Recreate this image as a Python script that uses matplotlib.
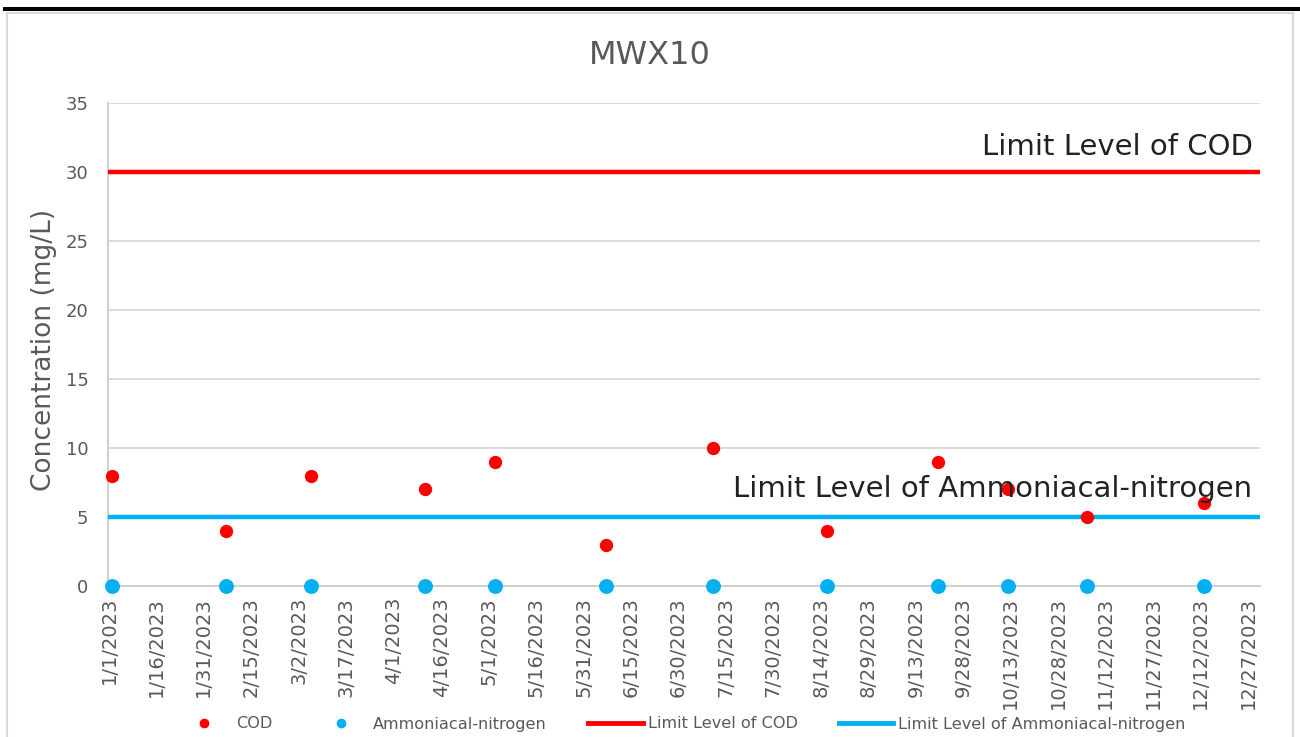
import pandas as pd
import matplotlib
matplotlib.use('Agg')
import matplotlib.pyplot as plt
from matplotlib.patches import Rectangle
from matplotlib.lines import Line2D

# data
sample_dates = ['2023-01-02', '2023-02-07', '2023-03-06', '2023-04-11', '2023-05-03',
                '2023-06-07', '2023-07-11', '2023-08-16', '2023-09-20', '2023-10-12',
                '2023-11-06', '2023-12-13']
cod = [8, 4, 8, 7, 9, 3, 10, 4, 9, 7, 5, 6]
ammonia = [0, 0, 0, 0, 0, 0, 0, 0, 0, 0, 0, 0]
cod_limit = 30
ammonia_limit = 5
tick_start = '2023-01-01'
tick_step_days = 15
n_ticks = 25

RED = '#FF0000'
BLUE = '#00B0F0'
GREY_TXT = '#595959'

plt.rcParams['font.family'] = ['DejaVu Sans']

fig = plt.figure(figsize=(13, 7.37), dpi=100, facecolor='white')
ax = fig.add_axes([108 / 1300, 1 - 586 / 737, (1260 - 108) / 1300, (586 - 103) / 737])

dates = pd.to_datetime(sample_dates)
t0 = pd.Timestamp(tick_start)
ticks = [t0 + pd.Timedelta(days=tick_step_days * i) for i in range(n_ticks)]

x_left = t0 - pd.Timedelta(hours=7)
x_right = t0 + pd.Timedelta(days=363.8)

ax.set_xlim(x_left, x_right)
ax.set_ylim(0, 35)

# gridlines
ax.set_yticks(range(0, 36, 5))
ax.yaxis.grid(True, color='#d9d9d9', linewidth=1.3)
ax.set_axisbelow(True)

ax.scatter(dates, ammonia, s=115, color=BLUE, zorder=3, clip_on=False, linewidths=0)
ax.scatter(dates, cod, s=92, color=RED, zorder=4, clip_on=False, linewidths=0)
ax.plot([x_left, x_right], [cod_limit, cod_limit], color=RED, linewidth=3.2, zorder=3,
        solid_capstyle='round')
ax.plot([x_left, x_right], [ammonia_limit, ammonia_limit], color=BLUE, linewidth=3.2, zorder=3,
        solid_capstyle='round')

ax.text(0.9935, cod_limit + 1.8, 'Limit Level of COD', transform=ax.get_yaxis_transform(),
        ha='right', va='center', fontsize=21, color='#222222', zorder=6)
ax.text(0.9935, ammonia_limit + 2.0, 'Limit Level of Ammoniacal-nitrogen',
        transform=ax.get_yaxis_transform(), ha='right', va='center', fontsize=21,
        color='#222222', zorder=6)

ax.set_xticks(ticks)
ax.set_xticklabels([f'{d.month}/{d.day}/{d.year}' for d in ticks], rotation=90,
                   fontsize=14, color=GREY_TXT)
ax.tick_params(axis='x', length=0, pad=8)
ax.tick_params(axis='y', length=0, pad=14, labelsize=13, labelcolor=GREY_TXT)

for side in ['top', 'right']:
    ax.spines[side].set_visible(False)
ax.spines['left'].set_color('#d0d0d0')
ax.spines['left'].set_linewidth(1.5)
ax.spines['bottom'].set_color('#d0d0d0')
ax.spines['bottom'].set_linewidth(1.5)

ax.set_ylabel('Concentration (mg/L)', fontsize=19, color=GREY_TXT)
ax.yaxis.set_label_coords(-0.0443, 0.4886)
fig.text(650 / 1300, 1 - 55 / 737, 'MWX10', ha='center', va='center', fontsize=23,
         color=GREY_TXT)

# legend
handles = [
    Line2D([], [], linestyle='none', marker='o', markersize=6, color=RED),
    Line2D([], [], linestyle='none', marker='o', markersize=6, color=BLUE),
    Line2D([], [], color=RED, linewidth=3.5),
    Line2D([], [], color=BLUE, linewidth=3.5),
]
labels = ['COD', 'Ammoniacal-nitrogen', 'Limit Level of COD', 'Limit Level of Ammoniacal-nitrogen']
leg = fig.legend(handles, labels, ncol=4, loc='center', bbox_to_anchor=(681 / 1300, 1 - 724 / 737),
                 frameon=False, fontsize=11.6, handlelength=3.4, handletextpad=0.3,
                 columnspacing=2.55, labelcolor=GREY_TXT)

# chart frame and top bar
fig.patches.append(Rectangle((7 / 1300, -0.05), (1293 - 7) / 1300, 1.05 - 13 / 737,
                             transform=fig.transFigure, fill=False, edgecolor='#d9d9d9',
                             linewidth=1.5))
fig.patches.append(Rectangle((3 / 1300, 1 - 11 / 737), 1297 / 1300, 4 / 737,
                             transform=fig.transFigure, facecolor='black', edgecolor='none'))

fig.savefig('out.png', dpi=100, facecolor='white')
